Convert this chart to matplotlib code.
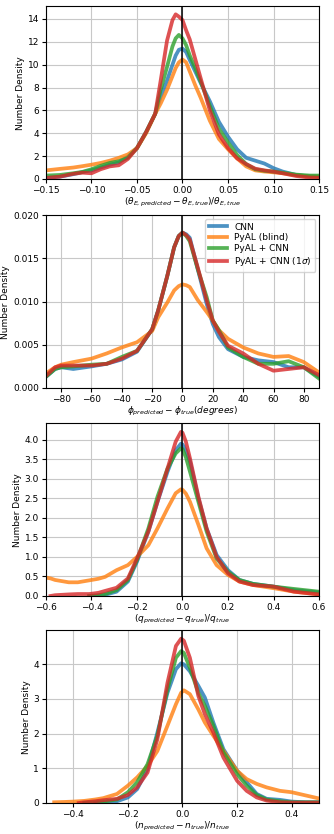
import matplotlib
matplotlib.use("Agg")
import matplotlib.pyplot as plt
import numpy as np

nan = np.nan
labels = ["CNN", "PyAL (blind)", "PyAL + CNN", r"PyAL + CNN (1$\sigma$)"]
colors = ["tab:blue", "tab:orange", "tab:green", "tab:red"]

# panel 1: Einstein radius
x1 = [-0.15, -0.135, -0.12, -0.11, -0.1, -0.09, -0.08, -0.07, -0.06, -0.05, -0.04, -0.03, -0.024, -0.017,
      -0.011, -0.0075, -0.004, 0.0, 0.004, 0.008, 0.014, 0.02, 0.03, 0.04, 0.05, 0.06, 0.07, 0.08, 0.09,
      0.1, 0.11, 0.125, 0.14, 0.15]
cnn1 = [0.1, 0.2, 0.42, 0.6, 0.75, 1.0, 1.25, 1.45, 1.95, 2.7, 4.1, 5.7, 7.2, 8.6, 10.0, 10.8, 11.3, 11.4,
        11.1, 10.4, 9.4, 8.4, 6.8, 5.0, 3.7, 2.6, 1.85, 1.6, 1.35, 0.95, 0.65, 0.35, 0.22, 0.2]
blind1 = [0.75, 0.88, 1.0, 1.12, 1.25, 1.4, 1.6, 1.85, 2.15, 2.7, 4.0, 5.7, 6.6, 7.8, 9.0, 9.7, 10.2, 10.45,
          10.2, 9.4, 8.2, 7.1, 5.1, 3.5, 2.6, 1.8, 1.1, 0.75, 0.65, 0.58, 0.5, 0.32, 0.22, 0.2]
pyal1 = [0.3, 0.35, 0.5, 0.62, 0.85, 1.15, 1.4, 1.55, 1.85, 2.7, 4.1, 5.7, 7.8, 9.8, 11.6, 12.3, 12.6, 12.3,
         11.7, 10.8, 9.7, 8.5, 6.4, 4.4, 3.2, 2.1, 1.3, 0.85, 0.72, 0.65, 0.55, 0.38, 0.3, 0.3]
sig1 = [0.09, 0.2, 0.45, 0.55, 0.5, 0.85, 1.1, 1.2, 1.75, 2.7, 4.1, 5.7, 8.6, 12.1, 13.9, 14.4, 14.2, 13.9,
        13.0, 12.2, 10.5, 8.8, 6.0, 3.9, 2.7, 1.8, 1.3, 0.9, 0.75, 0.64, 0.5, 0.26, 0.12, 0.1]

# panel 2: position angle
x2 = [-90, -84, -80, -72, -60, -50, -40, -30, -20, -16, -10, -5.5, -2.5, 0, 2.5, 4.8, 10, 16, 20, 24, 30,
      40, 50, 60, 70, 80, 90]
cnn2 = [0.0013, 0.0022, 0.0024, 0.0022, 0.0025, 0.0028, 0.0033, 0.0042, 0.0068, 0.009, 0.013, 0.0163, 0.0176,
        0.018, 0.0178, 0.0174, 0.0138, 0.0097, 0.0074, 0.0059, 0.0045, 0.0036, 0.0032, 0.003, 0.0024, 0.0024,
        0.0013]
blind2 = [0.0017, 0.0024, 0.0027, 0.003, 0.0034, 0.004, 0.0047, 0.0053, 0.0066, 0.0082, 0.0099, 0.0113,
          0.0118, 0.012, 0.0119, 0.0117, 0.0102, 0.0088, 0.0078, 0.0067, 0.0057, 0.0047, 0.004, 0.0036, 0.0037,
          0.003, 0.0018]
pyal2 = [0.0013, 0.0022, 0.0024, 0.0025, 0.0027, 0.0028, 0.0036, 0.0043, 0.0068, 0.009, 0.013, 0.0163, 0.0176,
         0.018, 0.0176, 0.017, 0.0138, 0.0105, 0.0078, 0.0067, 0.0047, 0.0036, 0.0028, 0.0028, 0.0031, 0.0024,
         0.0011]
sig2 = [0.0014, 0.0024, 0.0026, 0.0026, 0.0026, 0.0028, 0.0034, 0.0043, 0.0068, 0.009, 0.013, 0.0163, 0.0176,
        0.018, 0.0177, 0.0172, 0.014, 0.0101, 0.0078, 0.0065, 0.0049, 0.004, 0.0028, 0.002, 0.0022, 0.0024,
        0.0015]

# panel 3: axis ratio
x3 = [-0.6, -0.58, -0.56, -0.5, -0.46, -0.41, -0.37, -0.34, -0.29, -0.24, -0.2, -0.15, -0.11, -0.066, -0.03,
      -0.007, 0.0, 0.015, 0.033, 0.07, 0.106, 0.15, 0.2, 0.25, 0.31, 0.4, 0.49, 0.6]
cnn3 = [nan, nan, nan, nan, nan, 0.0, 0.01, 0.03, 0.11, 0.37, 0.88, 1.65, 2.41, 3.18, 3.73, 3.9, 3.88, 3.72,
        3.44, 2.5, 1.73, 1.05, 0.66, 0.41, 0.31, 0.24, 0.15, 0.09]
blind3 = [0.47, 0.45, 0.41, 0.35, 0.35, 0.4, 0.44, 0.49, 0.66, 0.79, 1.0, 1.3, 1.73, 2.24, 2.63, 2.73, 2.72,
          2.62, 2.41, 1.82, 1.22, 0.79, 0.54, 0.37, 0.28, 0.2, 0.11, 0.04]
pyal3 = [nan, nan, nan, nan, nan, 0.0, 0.02, 0.05, 0.15, 0.41, 0.92, 1.73, 2.54, 3.26, 3.65, 3.78, 3.76, 3.55,
         3.18, 2.41, 1.65, 0.96, 0.62, 0.41, 0.31, 0.24, 0.18, 0.11]
sig3 = [nan, 0.0, 0.02, 0.04, 0.05, 0.05, 0.08, 0.13, 0.21, 0.45, 0.96, 1.65, 2.41, 3.26, 3.95, 4.2, 4.18,
        3.95, 3.52, 2.54, 1.73, 1.0, 0.58, 0.37, 0.28, 0.24, 0.11, 0.04]

# panel 4: Sersic index
x4 = [-0.47, -0.43, -0.4, -0.38, -0.36, -0.32, -0.29, -0.24, -0.2, -0.166, -0.128, -0.092, -0.055, -0.024,
      -0.005, 0.005, 0.027, 0.058, 0.082, 0.113, 0.15, 0.2, 0.235, 0.272, 0.308, 0.357, 0.4, 0.45, 0.5]
cnn4 = [nan, nan, nan, nan, nan, 0.0, 0.01, 0.05, 0.16, 0.4, 0.98, 2.03, 3.18, 3.86, 4.03, 4.0, 3.8, 3.38,
        3.04, 2.32, 1.55, 0.93, 0.6, 0.26, 0.12, 0.09, 0.04, 0.02, 0.02]
blind4 = [0.02, 0.03, 0.04, 0.05, 0.06, 0.1, 0.14, 0.26, 0.5, 0.74, 1.07, 1.5, 2.23, 2.85, 3.18, 3.25, 3.14,
          2.7, 2.32, 1.94, 1.5, 0.93, 0.69, 0.55, 0.45, 0.35, 0.31, 0.22, 0.13]
pyal4 = [nan, nan, nan, nan, 0.0, 0.02, 0.04, 0.1, 0.31, 0.6, 1.12, 1.94, 3.28, 4.19, 4.38, 4.33, 3.9, 3.18,
         2.8, 2.23, 1.46, 0.83, 0.5, 0.23, 0.1, 0.05, 0.02, 0.02, 0.02]
sig4 = [nan, nan, nan, 0.0, 0.02, 0.05, 0.08, 0.12, 0.23, 0.45, 0.88, 1.84, 3.47, 4.53, 4.74, 4.68, 4.19,
        3.09, 2.56, 2.03, 1.31, 0.64, 0.35, 0.16, 0.07, 0.02, 0.01, 0.01, 0.01]

xlabels = [r"$(\theta_{E,predicted}-\theta_{E,true})/\theta_{E,true}$",
           r"$\phi_{predicted}-\phi_{true} (degrees)$",
           r"$(q_{predicted}-q_{true})/q_{true}$",
           r"$(n_{predicted}-n_{true})/n_{true}$"]
xlims = [(-0.15, 0.15), (-90, 90), (-0.6, 0.6), (-0.5, 0.5)]
ylims = [(0, 15.1), (0, 0.02), (0, 4.42), (0, 4.98)]

panels = [(x1, [cnn1, blind1, pyal1, sig1]),
          (x2, [cnn2, blind2, pyal2, sig2]),
          (x3, [cnn3, blind3, pyal3, sig3]),
          (x4, [cnn4, blind4, pyal4, sig4])]

fs = 6.5
fig = plt.figure(figsize=(3.34, 8.34), dpi=100)
boxes = [0.7854, 0.5348, 0.2854, 0.0372]
for i, (xx, ys) in enumerate(panels):
    ax = fig.add_axes([0.1377, boxes[i], 0.8174, 0.207])
    for y, c, lab in zip(ys, colors, labels):
        ax.plot(xx, y, color=c, lw=2.7, alpha=0.8, label=lab, solid_joinstyle="round")
    ax.axvline(0, color="k", lw=1.3, alpha=0.85)
    ax.set_xlim(*xlims[i])
    ax.set_ylim(*ylims[i])
    ax.grid(True, color="#c8c8c8", lw=0.8)
    ax.set_axisbelow(True)
    ax.set_xlabel(xlabels[i], fontsize=fs, labelpad=1)
    ax.set_ylabel("Number Density", fontsize=fs, labelpad=2)
    ax.tick_params(labelsize=fs, length=3, pad=2)
    if i == 1:
        ax.set_yticks([0, 0.005, 0.01, 0.015, 0.02])
        ax.yaxis.set_major_formatter(matplotlib.ticker.FormatStrFormatter("%.3f"))
        ax.legend(loc="upper right", fontsize=fs, handlelength=2.0, borderpad=0.4,
                  labelspacing=0.2, borderaxespad=0.4)

plt.savefig("out.png", dpi=100)
